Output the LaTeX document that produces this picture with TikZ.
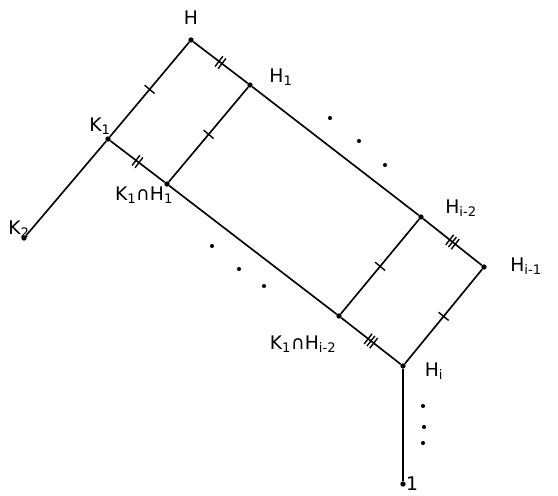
\documentclass[tikz,border=0pt]{standalone}
\usepackage{fontspec}
\setmainfont{DejaVu Sans}
\usetikzlibrary{decorations.markings}

\begin{document}
\begin{tikzpicture}[
    x=0.03cm, y=-0.03cm,
    edge/.style={line width=1.4pt},
    vtx/.style={circle, fill=black, inner sep=0pt, minimum size=4.5pt},
    lbl/.style={font=\fontsize{16}{18}\selectfont, inner sep=0pt},
    dot/.style={circle, fill=black, inner sep=0pt, minimum size=3.5pt},
    tickone/.style={postaction={decorate}, decoration={markings,
        mark=at position 0.5 with {\draw[line width=1.2pt] (0,-5.5pt) -- (0,5.5pt);}}},
    ticktwo/.style={postaction={decorate}, decoration={markings,
        mark=at position 0.5 with {\draw[line width=1.2pt] (-1.6pt,-5.5pt) -- (-1.6pt,5.5pt) (1.6pt,-5.5pt) -- (1.6pt,5.5pt);}}},
    tickthree/.style={postaction={decorate}, decoration={markings,
        mark=at position 0.5 with {\draw[line width=1.2pt] (-3pt,-5.5pt) -- (-3pt,5.5pt) (0,-5.5pt) -- (0,5.5pt) (3pt,-5.5pt) -- (3pt,5.5pt);}}}
]
\useasboundingbox (0,0) rectangle (558,495);

% vertices
\node[vtx] (h)   at (191,40)  {};
\node[vtx] (h1)  at (250,85)  {};
\node[vtx] (k1)  at (108,139) {};
\node[vtx] (kh1) at (167,184) {};
\node[vtx] (k2)  at (24,238)  {};
\node[vtx] (hi2) at (421,217) {};
\node[vtx] (hi1) at (484,267) {};
\node[vtx] (khi2) at (339,316) {};
\node[vtx] (hi)  at (403,366) {};
\node[vtx] (one) at (403,484) {};

% labels
\node[lbl] (lh)   at (191,18)  {H};
\node[lbl] (lh1)  at (281,77)  {H\textsubscript{1}};
\node[lbl] (lk1)  at (100,126) {K\textsubscript{1}};
\node[lbl] (lkh1) at (144,195) {K\textsubscript{1}∩H\textsubscript{1}};
\node[lbl] (lk2)  at (19,229)  {K\textsubscript{2}};
\node[lbl] (lhi2) at (461,208) {H\textsubscript{i-2}};
\node[lbl] (lhi1) at (526,266) {H\textsubscript{i-1}};
\node[lbl] (lkhi2) at (303,344) {K\textsubscript{1}∩H\textsubscript{i-2}};
\node[lbl] (lhi)  at (434,371) {H\textsubscript{i}};
\node[lbl] (lone) at (412,484) {1};

% edges
\draw[edge, tickone] (h) -- (k1);
\draw[edge] (k1) -- (k2);
\draw[edge, ticktwo] (h) -- (h1);
\draw[edge] (h1) -- (hi2);
\draw[edge, tickthree] (hi2) -- (hi1);
\draw[edge, tickone] (hi1) -- (hi);
\draw[edge, ticktwo] (k1) -- (kh1);
\draw[edge] (kh1) -- (khi2);
\draw[edge, tickthree] (khi2) -- (hi);
\draw[edge, tickone] (h1) -- (kh1);
\draw[edge, tickone] (hi2) -- (khi2);
\draw[edge] (hi) -- (one);

% dots
\node[dot] (d1) at (330,118) {};
\node[dot] (d2) at (359,141) {};
\node[dot] (d3) at (385,165) {};
\node[dot] (d4) at (212,246) {};
\node[dot] (d5) at (239,269) {};
\node[dot] (d6) at (264,286) {};
\node[dot] (d7) at (423,406) {};
\node[dot] (d8) at (424,427) {};
\node[dot] (d9) at (423,443) {};
\end{tikzpicture}
\end{document}
